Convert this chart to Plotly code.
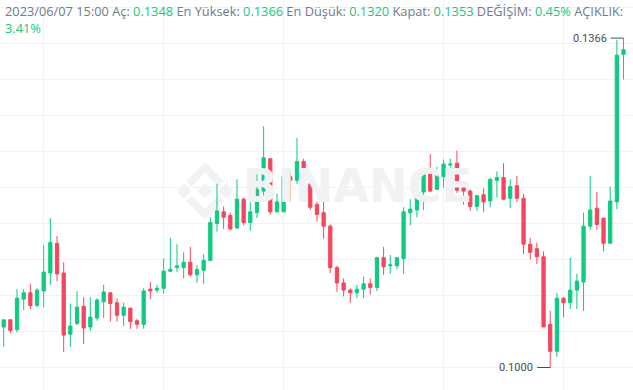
import plotly.graph_objects as go
import pandas as pd

# ---------------- data (hourly candles) ----------------
opens = [0.1045, 0.1053, 0.1042, 0.1076, 0.1083, 0.1069, 0.1085, 0.1105, 0.1138, 0.1105,
         0.1037, 0.1049, 0.1068, 0.1045, 0.1055, 0.1073, 0.1083, 0.1072, 0.1058, 0.1066,
         0.1052, 0.1048, 0.1087, 0.1086, 0.1088, 0.1107, 0.1111, 0.1111, 0.1117, 0.1103,
         0.1108, 0.1119, 0.1160, 0.1173, 0.1169, 0.1155, 0.1187, 0.1161, 0.1172, 0.1196,
         0.1232, 0.1173, 0.1173, 0.1212, 0.1208, 0.1229, 0.1204, 0.1181, 0.1172, 0.1157,
         0.1111, 0.1094, 0.1086, 0.1083, 0.1087, 0.1093, 0.1089, 0.1122, 0.1113, 0.1113,
         0.1121, 0.1172, 0.1175, 0.1195, 0.1215, 0.1198, 0.1212, 0.1225, 0.1227, 0.1200,
         0.1196, 0.1179, 0.1192, 0.1185, 0.1208, 0.1211, 0.1188, 0.1202, 0.1188, 0.1137,
         0.1132, 0.1123, 0.1048, 0.1018, 0.1077, 0.1072, 0.1086, 0.1095, 0.1157, 0.1177,
         0.1166, 0.1138, 0.1184, 0.1348]
highs = [0.1053, 0.1053, 0.1087, 0.1087, 0.1093, 0.1088, 0.1136, 0.1166, 0.1146, 0.1117,
         0.1071, 0.1085, 0.1078, 0.1078, 0.1077, 0.1092, 0.1083, 0.1077, 0.1072, 0.1066,
         0.1054, 0.1088, 0.1095, 0.1092, 0.1121, 0.1144, 0.1137, 0.1128, 0.1134, 0.1114,
         0.1126, 0.1167, 0.1204, 0.1179, 0.1172, 0.1209, 0.1189, 0.1198, 0.1219, 0.1268,
         0.1232, 0.1193, 0.1218, 0.1217, 0.1255, 0.1232, 0.1206, 0.1184, 0.1184, 0.1159,
         0.1113, 0.1099, 0.1088, 0.1092, 0.1101, 0.1099, 0.1123, 0.1134, 0.1125, 0.1122,
         0.1178, 0.1187, 0.1211, 0.1217, 0.1237, 0.1223, 0.1231, 0.1232, 0.1241, 0.1205,
         0.1198, 0.1191, 0.1199, 0.1211, 0.1218, 0.1227, 0.1209, 0.1213, 0.1193, 0.1144,
         0.1139, 0.1129, 0.1063, 0.1083, 0.1078, 0.1122, 0.1104, 0.1172, 0.1213, 0.1195,
         0.1166, 0.1201, 0.1364, 0.1366]
lows = [0.1023, 0.1038, 0.1039, 0.1064, 0.1065, 0.1067, 0.1067, 0.1092, 0.1096, 0.1017,
        0.1023, 0.1047, 0.1026, 0.1041, 0.1052, 0.1055, 0.1051, 0.1051, 0.1046, 0.1043,
        0.1043, 0.1043, 0.1076, 0.1083, 0.1082, 0.1106, 0.1106, 0.1099, 0.1101, 0.1094,
        0.1093, 0.1118, 0.1151, 0.1154, 0.1152, 0.1154, 0.1158, 0.1152, 0.1166, 0.1189,
        0.1170, 0.1172, 0.1173, 0.1184, 0.1204, 0.1195, 0.1175, 0.1162, 0.1143, 0.1105,
        0.1084, 0.1079, 0.1072, 0.1077, 0.1077, 0.1081, 0.1085, 0.1103, 0.1104, 0.1109,
        0.1104, 0.1158, 0.1167, 0.1175, 0.1195, 0.1197, 0.1200, 0.1203, 0.1194, 0.1181,
        0.1174, 0.1174, 0.1173, 0.1178, 0.1189, 0.1186, 0.1177, 0.1184, 0.1126, 0.1120,
        0.1115, 0.1045, 0.1000, 0.1012, 0.1056, 0.1065, 0.1065, 0.1063, 0.1153, 0.1153,
        0.1129, 0.1138, 0.1176, 0.1320]
closes = [0.1053, 0.1041, 0.1077, 0.1083, 0.1069, 0.1086, 0.1106, 0.1139, 0.1104, 0.1036,
          0.1046, 0.1067, 0.1044, 0.1056, 0.1075, 0.1084, 0.1071, 0.1058, 0.1067, 0.1051,
          0.1048, 0.1085, 0.1085, 0.1088, 0.1107, 0.1109, 0.1113, 0.1117, 0.1103, 0.1109,
          0.1119, 0.1161, 0.1174, 0.1167, 0.1154, 0.1187, 0.1161, 0.1173, 0.1198, 0.1233,
          0.1173, 0.1184, 0.1212, 0.1208, 0.1229, 0.1203, 0.1178, 0.1170, 0.1157, 0.1111,
          0.1094, 0.1086, 0.1083, 0.1087, 0.1093, 0.1089, 0.1122, 0.1112, 0.1114, 0.1122,
          0.1173, 0.1176, 0.1194, 0.1215, 0.1196, 0.1214, 0.1226, 0.1226, 0.1197, 0.1196,
          0.1179, 0.1191, 0.1184, 0.1209, 0.1211, 0.1187, 0.1201, 0.1188, 0.1137, 0.1128,
          0.1123, 0.1045, 0.1018, 0.1077, 0.1072, 0.1086, 0.1096, 0.1157, 0.1175, 0.1159,
          0.1138, 0.1185, 0.1347, 0.1353]

last_time = pd.Timestamp("2023-06-07 15:00")
times = pd.date_range(end=last_time, periods=len(opens), freq="h")
grid_idx = [6, 24, 42, 66, 84]          # candles carrying vertical grid lines
price_grid = [0.100, 0.104, 0.108, 0.112, 0.116, 0.120, 0.124, 0.128, 0.132, 0.136, 0.140]

change_txt = "0.45%"
amp_txt = "3.41%"

# ---------------- styling ----------------
W, H = 633, 390
GREEN = "#0ECB81"
RED = "#F6465D"
LABEL = "#707A8A"
DARK = "#474D57"
WM = "#F1F2F4"
hour = pd.Timedelta(hours=1)

fig = go.Figure()

# watermark text (drawn first so candles sit on top)
wm_x = times[0] + 53.1 * hour
wm_y = 0.1197
fig.add_trace(go.Scatter(x=[wm_x], y=[wm_y], mode="text", text=["BINANCE"],
                         textfont=dict(family="DejaVu Sans", size=46, color=WM, weight="bold"),
                         hoverinfo="skip", showlegend=False))

fig.add_trace(go.Candlestick(
    x=times, open=opens, high=highs, low=lows, close=closes,
    increasing=dict(line=dict(color=GREEN, width=1), fillcolor=GREEN),
    decreasing=dict(line=dict(color=RED, width=1), fillcolor=RED),
    whiskerwidth=0, showlegend=False, hoverinfo="skip"))

# watermark logo (diamonds + chevrons) in paper coordinates
def px(xp, yp):
    return xp / W, 1 - yp / H

cx, cy, R = 205, 191, 30
def poly(ab):
    pts = []
    for a, b in ab:
        x = (a - b) / 2
        y = (a + b) / 2
        pts.append(px(cx + x * R, cy - y * R))
    return "M " + " L ".join(f"{p[0]:.5f},{p[1]:.5f}" for p in pts) + " Z"

def sq(a0, a1, b0, b1):
    return [(a0, b0), (a1, b0), (a1, b1), (a0, b1)]

logo_parts = [
    sq(-0.25, 0.25, -0.25, 0.25),
    sq(0.45, 0.95, -0.95, -0.45),
    sq(-0.95, -0.45, 0.45, 0.95),
    [(0.6, -0.3), (0.95, -0.3), (0.95, 0.95), (-0.3, 0.95), (-0.3, 0.6), (0.6, 0.6)],
    [(-0.6, 0.3), (-0.95, 0.3), (-0.95, -0.95), (0.3, -0.95), (0.3, -0.6), (-0.6, -0.6)],
]
shapes = []
for part in logo_parts:
    shapes.append(dict(type="path", xref="paper", yref="paper", path=poly(part),
                       fillcolor=WM, line=dict(width=0), layer="below"))

# high / low markers
i_hi = max(range(len(highs)), key=lambda i: highs[i])
i_lo = min(range(len(lows)), key=lambda i: lows[i])
for i, val in [(i_hi, highs[i_hi]), (i_lo, lows[i_lo])]:
    shapes.append(dict(type="line", xref="x", yref="y", xsizemode="pixel", xanchor=times[i],
                       x0=-13, x1=0, y0=val, y1=val, line=dict(color=DARK, width=1)))

annotations = []
for i, val in [(i_hi, highs[i_hi]), (i_lo, lows[i_lo])]:
    annotations.append(dict(x=times[i], y=val, xref="x", yref="y", text=f"{val:.4f}",
                            showarrow=False, xanchor="right", yanchor="middle", xshift=-15,
                            font=dict(family="Roboto", size=11, color=DARK)))

def v(s):
    return f"<span style='color:{GREEN}'>{s}</span>"

o, h, l, c = opens[-1], highs[-1], lows[-1], closes[-1]
header = (f"{last_time:%Y/%m/%d %H:%M} Aç: {v(f'{o:.4f}')} En Yüksek: {v(f'{h:.4f}')} "
          f"En Düşük: {v(f'{l:.4f}')} Kapat: {v(f'{c:.4f}')} DEĞİŞİM: {v(change_txt)} "
          f"AÇIKLIK:<br>{v(amp_txt)}")
annotations.append(dict(x=0, y=1, xref="paper", yref="paper", xanchor="left", yanchor="top",
                        xshift=3, yshift=0, align="left", showarrow=False, text=header,
                        font=dict(family="Open Sans", size=12.8, color=LABEL)))

x0 = times[0] - 0.555 * hour
x1 = times[0] + 94.42 * hour
fig.update_layout(
    width=W, height=H, margin=dict(l=0, r=0, t=0, b=0),
    paper_bgcolor="#FFFFFF", plot_bgcolor="#FFFFFF",
    showlegend=False, shapes=shapes, annotations=annotations,
    xaxis=dict(range=[x0, x1], rangeslider=dict(visible=False), showticklabels=False,
               tickmode="array", tickvals=[times[i] for i in grid_idx],
               showgrid=True, gridcolor="#F1F2F4", gridwidth=1, zeroline=False,
               showline=False, ticks=""),
    yaxis=dict(range=[0.0975, 0.1 + 367.5 / 9000], showticklabels=False,
               tickmode="array", tickvals=price_grid,
               showgrid=True, gridcolor="#F1F2F4", gridwidth=1, zeroline=False,
               showline=False, ticks=""),
)

fig.write_html("out.html", config={"displayModeBar": False},
               post_script="document.body.style.margin='0';")
